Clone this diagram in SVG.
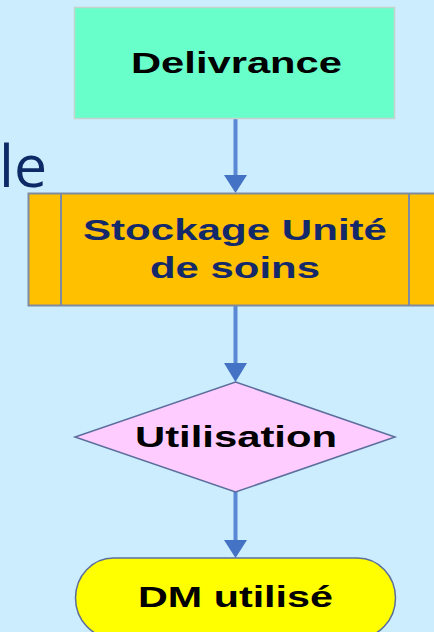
<svg xmlns="http://www.w3.org/2000/svg" width="434" height="632" viewBox="0 0 434 632">
<defs>
<style>
.lbl{font-family:"Liberation Sans",Arial,sans-serif;font-weight:bold;font-size:29.5px;text-anchor:middle}
.conn{stroke:#5A88D4;stroke-width:4;fill:none}
.head{fill:#4472C4}
</style>
</defs>
<rect width="434" height="632" fill="#CCEDFD"/>
<text x="-1" y="187" font-family="'Open Sans','Noto Sans',sans-serif" font-size="59" font-weight="500" fill="#0E2A66">le</text>
<g id="connectors">
<line class="conn" x1="235.5" y1="118" x2="235.5" y2="176"/>
<path class="head" d="M224,175 L247,175 L235.5,193 Z"/>
<line class="conn" x1="235.5" y1="306" x2="235.5" y2="364"/>
<path class="head" d="M224,363 L247,363 L235.5,382 Z"/>
<line class="conn" x1="235.5" y1="492" x2="235.5" y2="541"/>
<path class="head" d="M224,540 L247,540 L235.5,558 Z"/>
</g>
<g id="delivrance">
<rect x="74.5" y="7.5" width="320" height="111" fill="#69FFCB" stroke="#C4D4CC" stroke-width="1.5"/>
<text class="lbl" x="236.5" y="73" fill="#000" textLength="211" lengthAdjust="spacingAndGlyphs">Delivrance</text>
</g>
<g id="stockage">
<rect x="28.5" y="193.5" width="414" height="112" fill="#FFC000" stroke="#7E8AA0" stroke-width="2"/>
<line x1="61" y1="193.5" x2="61" y2="305.5" stroke="#7E8AA0" stroke-width="2"/>
<line x1="409" y1="193.5" x2="409" y2="305.5" stroke="#7E8AA0" stroke-width="2"/>
<text class="lbl" x="235" y="240" fill="#14296A" textLength="304" lengthAdjust="spacingAndGlyphs">Stockage Unité</text>
<text class="lbl" x="235" y="278" fill="#14296A" textLength="170" lengthAdjust="spacingAndGlyphs">de soins</text>
</g>
<g id="utilisation">
<polygon points="235.5,382 395,437 235.5,492 75,437" fill="#FFCCFF" stroke="#5B6E9C" stroke-width="1.5"/>
<text class="lbl" x="236" y="447" fill="#000" textLength="202" lengthAdjust="spacingAndGlyphs">Utilisation</text>
</g>
<g id="dm-utilise">
<rect x="75.5" y="558" width="320" height="80" rx="38" ry="40" fill="#FFFF00" stroke="#5B6E9C" stroke-width="1.5"/>
<text class="lbl" x="235.5" y="607" fill="#000" textLength="195" lengthAdjust="spacingAndGlyphs">DM utilisé</text>
</g>
</svg>
